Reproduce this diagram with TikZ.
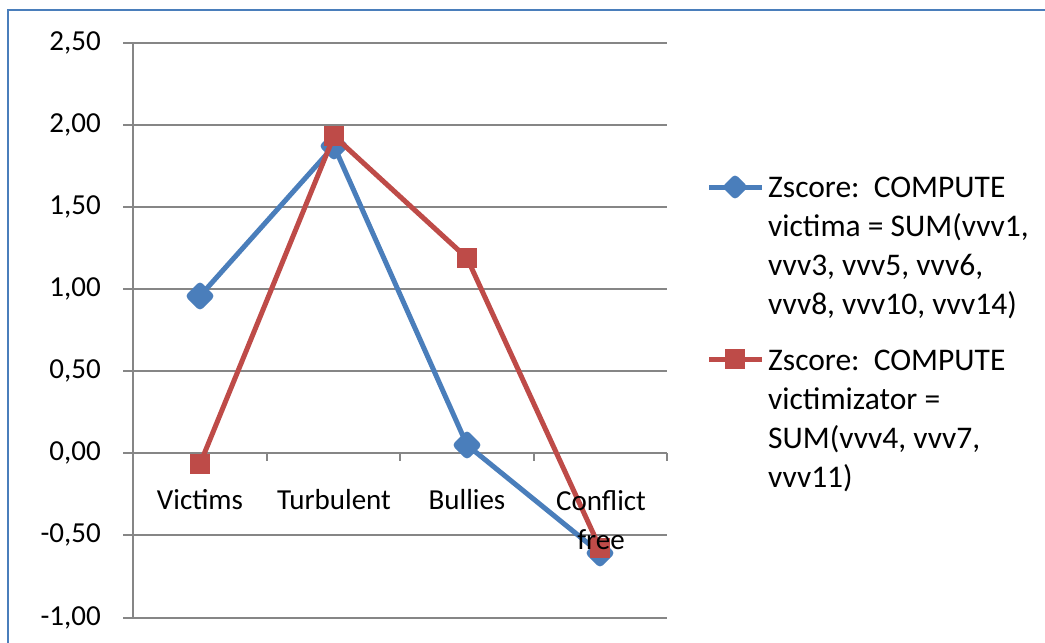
\documentclass[tikz,border=0pt]{standalone}
\usepackage{fontspec}
\setmainfont{Carlito}
\usetikzlibrary{shapes.geometric}
\definecolor{serA}{HTML}{4A7EBB}
\definecolor{serB}{HTML}{BE4B48}
\definecolor{gridc}{HTML}{868686}
\tikzset{
  lbl/.style={font=\fontsize{29}{39}\selectfont,inner sep=0pt},
  leg/.style={font=\fontsize{31.5}{39}\selectfont,inner sep=0pt,anchor=north west,align=left},
  markA/.style={diamond,fill=serA,draw=serA,line width=2pt,rounded corners=3pt,minimum size=28pt,inner sep=0pt},
  markB/.style={rectangle,fill=serB,minimum size=20pt,inner sep=0pt}
}
\begin{document}
\begin{tikzpicture}[x=1pt,y=-1pt]
\clip (0,0) rectangle (1045,643);
\draw[serA,line width=2pt] (8,10) rectangle (1070,670);
% grid and value labels
\foreach \y/\t in {43/{2,50},125/{2,00},207/{1,50},289/{1,00},371/{0,50},453/{0,00},535/{-0,50},618/{-1,00}}{
  \draw[gridc,line width=2pt] (123,\y) -- (667,\y);
  \node[lbl,anchor=east] at (101,\y) {\t};
}
\draw[gridc,line width=2pt] (133,43) -- (133,618);
\foreach \x in {133,267,400,534,667}
  \draw[gridc,line width=2pt] (\x,453) -- (\x,461);
% data
\coordinate (a1) at (200,296);
\coordinate (a2) at (334,146);
\coordinate (a3) at (467,445);
\coordinate (a4) at (600,553);
\coordinate (b1) at (200,464);
\coordinate (b2) at (334,136);
\coordinate (b3) at (467,258);
\coordinate (b4) at (600,548);
\draw[serA,line width=5pt,line join=round] (a1) -- (a2) -- (a3) -- (a4);
\foreach \p in {a1,a2,a3,a4}
  \node[markA] at (\p) {};
\draw[serB,line width=5pt,line join=round] (b1) -- (b2) -- (b3) -- (b4);
\foreach \p in {b1,b2,b3,b4}
  \node[markB] at (\p) {};
% categories
\node[lbl,anchor=base] (cv) at (200,509) {Victims};
\node[lbl,anchor=base] (ct) at (334,509) {Turbulent};
\node[lbl,anchor=base] (cb) at (467,509) {Bullies};
\node[lbl,anchor=north,align=center] (cc) at (601,490) {Conflict\\free};
% legend
\coordinate (la) at (735,187);
\coordinate (lb) at (735,359);
\draw[serA,line width=5pt] (709,187) -- (762,187);
\node[markA,minimum size=24pt] (ma) at (la) {};
\draw[serB,line width=5pt] (709,359) -- (762,359);
\node[markB] (mb) at (lb) {};
\node[leg] (ta) at (768,177) {Zscore:\ \ COMPUTE\\victima = SUM(vvv1,\\vvv3, vvv5, vvv6,\\vvv8, vvv10, vvv14)};
\node[leg] (tb) at (768,350) {Zscore:\ \ COMPUTE\\victimizator =\\SUM(vvv4, vvv7,\\vvv11)};
\end{tikzpicture}
\end{document}
